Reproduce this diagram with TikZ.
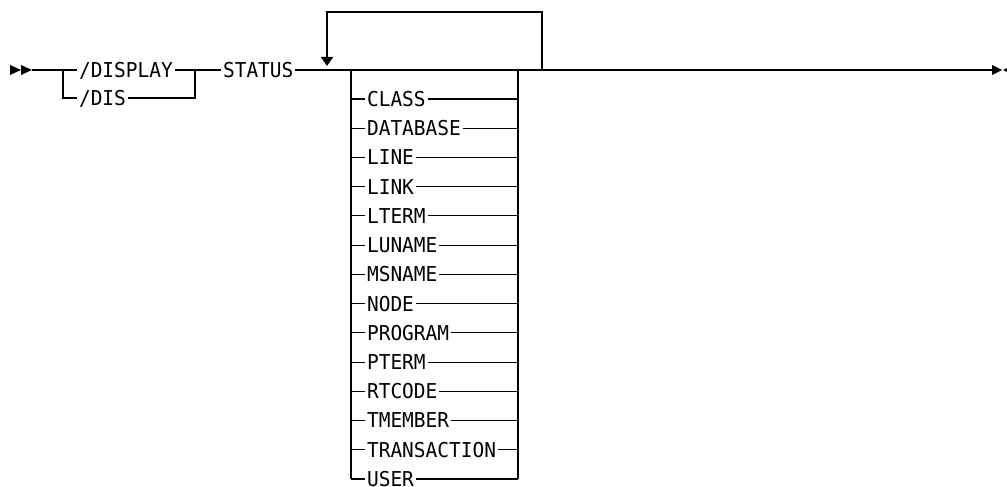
\documentclass[tikz,border=0pt]{standalone}
\usepackage{fontspec}
\setmonofont[FakeStretch=0.95]{DejaVu Sans Mono}
\usetikzlibrary{arrows.meta,positioning}

\tikzset{
  kw/.style={font=\ttfamily\fontsize{20.5pt}{21pt}\selectfont, anchor=west,
    inner xsep=1.5pt, inner ysep=0pt, text height=14.9pt, text depth=0pt},
  rail/.style={line width=1.1pt},
  tip/.style={fill=black},
}

\begin{document}
\begin{tikzpicture}[x=1pt, y=-1pt, rail, >={Triangle[width=12pt,length=9pt]}]
    \useasboundingbox (0,0) rectangle (1007,487);

    % start and end marks
    \fill[tip] (10,65) -- (21,70) -- (10,75) -- cycle;
    \fill[tip] (21,65) -- (32,70) -- (21,75) -- cycle;
    \fill[tip] (992,65) -- (1002,70) -- (992,75) -- cycle;
    \fill[tip] (1013,65) -- (1003,70) -- (1013,75) -- cycle;
    \coordinate (start) at (32,70);
    \coordinate (stop) at (992,70);

    % command name
    \coordinate (fork) at (63,70);
    \coordinate (join) at (195,70);
    \node[kw] (display) at (77,70) {/DISPLAY};
    \node[kw] (dis) at (77,98) {/DIS};
    \node[kw] (status) at (221,70) {STATUS};

    \draw (start) -- (display.west);
    \draw (fork) |- (dis.west);
    \draw (display.east) -- (join) -- (status.west);
    \draw (dis.east) -| (join);
    \draw (status.east) -- (stop);

    % keyword list
    \coordinate (boxl) at (351,70);
    \coordinate (boxr) at (518,70);
    \foreach \kwd [count=\i] in {CLASS,DATABASE,LINE,LINK,LTERM,LUNAME,MSNAME,
        NODE,PROGRAM,PTERM,RTCODE,TMEMBER,TRANSACTION,USER} {
        \node[kw] (item\i) at (365,{99+(\i-1)*29.23}) {\kwd};
        \draw (item\i.west -| boxl) -- (item\i.west);
        \draw (item\i.east) -- (item\i.east -| boxr);
    }
    \draw (boxl) -- (boxl |- item14.west);
    \draw (boxr) -- (boxr |- item14.east);

    % repeat loop
    \coordinate (loopr) at (542,70);
    \coordinate (looptop) at (542,12);
    \coordinate (loopl) at (327,66);
    \draw[->] (loopr) -- (looptop) -| (loopl);
\end{tikzpicture}
\end{document}
